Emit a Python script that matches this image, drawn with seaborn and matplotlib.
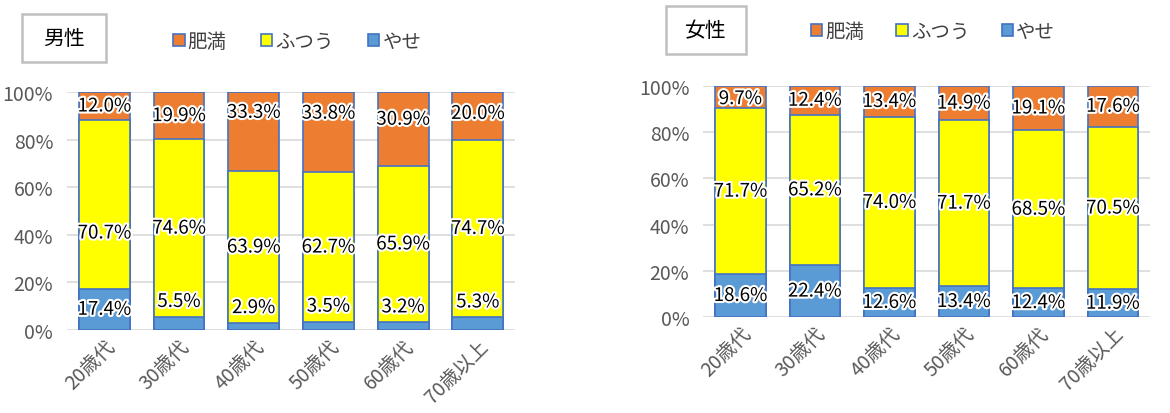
"""Stacked BMI category bars by age group, men and women side by side."""

import matplotlib.pyplot as plt
import matplotlib.patheffects as pe
import pandas as pd
import seaborn as sns
from matplotlib.patches import Patch, Rectangle

AGES = ["20歳代", "30歳代", "40歳代", "50歳代", "60歳代", "70歳以上"]
SERIES = ["肥満", "ふつう", "やせ"]

MALE_OBESE = [12.0, 19.9, 33.3, 33.8, 30.9, 20.0]
MALE_NORMAL = [70.7, 74.6, 63.9, 62.7, 65.9, 74.7]
MALE_THIN = [17.4, 5.5, 2.9, 3.5, 3.2, 5.3]

FEMALE_OBESE = [9.7, 12.4, 13.4, 14.9, 19.1, 17.6]
FEMALE_NORMAL = [71.7, 65.2, 74.0, 71.7, 68.5, 70.5]
FEMALE_THIN = [18.6, 22.4, 12.6, 13.4, 12.4, 11.9]

# label nudges (percentage points) where the original labels were moved by hand
MALE_NUDGE_OBESE = [0, 0, 8, 8, 4, 1]
MALE_NUDGE_NORMAL = [-12, 0, 0, 0, 0, 0]

COLORS = {"肥満": "#ED7D31", "ふつう": "#FFFF00", "やせ": "#5B9BD5"}
EDGE = "#4472C4"
GRAY = "#595959"

sns.set_theme(style="white")
plt.rcParams["font.family"] = ["Noto Sans CJK JP", "DejaVu Sans"]


def draw_panel(ax, thin, normal, obese, nudge_normal=None, nudge_obese=None):
    df = pd.DataFrame({"age": AGES, "thin": thin, "normal": normal, "obese": obese})
    df["t_normal"] = df["thin"] + df["normal"]
    df["t_obese"] = df["t_normal"] + df["obese"]
    df[["thin", "t_normal", "t_obese"]] /= 100.0

    for col, name in [("t_obese", "肥満"), ("t_normal", "ふつう"), ("thin", "やせ")]:
        sns.barplot(data=df, x="age", y=col, color=COLORS[name], ax=ax,
                    width=0.68, edgecolor=EDGE, linewidth=1.2, saturation=1)

    ax.set_ylim(0, 1.0)
    ax.set_xlim(-0.5, len(AGES) - 0.5)
    ax.set_yticks([0, 0.2, 0.4, 0.6, 0.8, 1.0])
    ax.set_yticklabels(["0%", "20%", "40%", "60%", "80%", "100%"])
    ax.yaxis.grid(True, color="#D9D9D9", linewidth=1.2)
    ax.set_axisbelow(True)
    for s in ax.spines.values():
        s.set_visible(False)
    ax.set_xlabel("")
    ax.set_ylabel("")
    ax.tick_params(axis="y", labelsize=14, colors=GRAY, pad=10, length=0)
    ax.tick_params(axis="x", labelsize=14, colors=GRAY, length=0, pad=4)
    plt.setp(ax.get_xticklabels(), rotation=45, ha="right", rotation_mode="anchor")

    nudge_normal = nudge_normal or [0] * len(AGES)
    nudge_obese = nudge_obese or [0] * len(AGES)
    stroke = [pe.withStroke(linewidth=3, foreground="white")]
    for i in range(len(AGES)):
        t, n, o = thin[i], normal[i], obese[i]
        y_thin = t / 2 if t >= 8 else t + 6.5
        y_norm = t + n / 2 + nudge_normal[i]
        y_obese = min(t + n + o / 2 + nudge_obese[i], 94.5)
        for y, v in [(y_thin, t), (y_norm, n), (y_obese, o)]:
            ax.text(i, y / 100, f"{v:.1f}%", ha="center", va="center",
                    fontsize=13.5, color="black", path_effects=stroke)


fig = plt.figure(figsize=(11.7, 4.14), dpi=100)
ax_m = fig.add_axes([0.0573, 0.2005, 0.383, 0.575])
ax_f = fig.add_axes([0.601, 0.232, 0.382, 0.558])

draw_panel(ax_m, MALE_THIN, MALE_NORMAL, MALE_OBESE, MALE_NUDGE_NORMAL, MALE_NUDGE_OBESE)
draw_panel(ax_f, FEMALE_THIN, FEMALE_NORMAL, FEMALE_OBESE)

handles = [Patch(facecolor=COLORS[s], edgecolor=EDGE, linewidth=1.2) for s in SERIES]
for lx, ly, gap in [(0.133, 0.898, 1.75), (0.678, 0.922, 1.65)]:
    fig.legend(handles, SERIES, loc="center left", bbox_to_anchor=(lx, ly), ncol=3,
               frameon=False, fontsize=14, handlelength=0.6, handleheight=0.6,
               handletextpad=0.15, columnspacing=gap, labelcolor="#404040")

# title boxes
for (x0, y0, w, h), title in [((22, 15, 84, 48), "男性"), ((666, 7, 80, 48), "女性")]:
    fig.patches.append(Rectangle((x0 / 1170, 1 - (y0 + h) / 414), w / 1170, h / 414,
                                 transform=fig.transFigure, fill=False,
                                 edgecolor="#BFBFBF", linewidth=1.8))
    fig.text((x0 + w / 2) / 1170, 1 - (y0 + h / 2) / 414, title, ha="center",
             va="center", fontsize=15, color="black")

fig.savefig("out.png", dpi=100)
